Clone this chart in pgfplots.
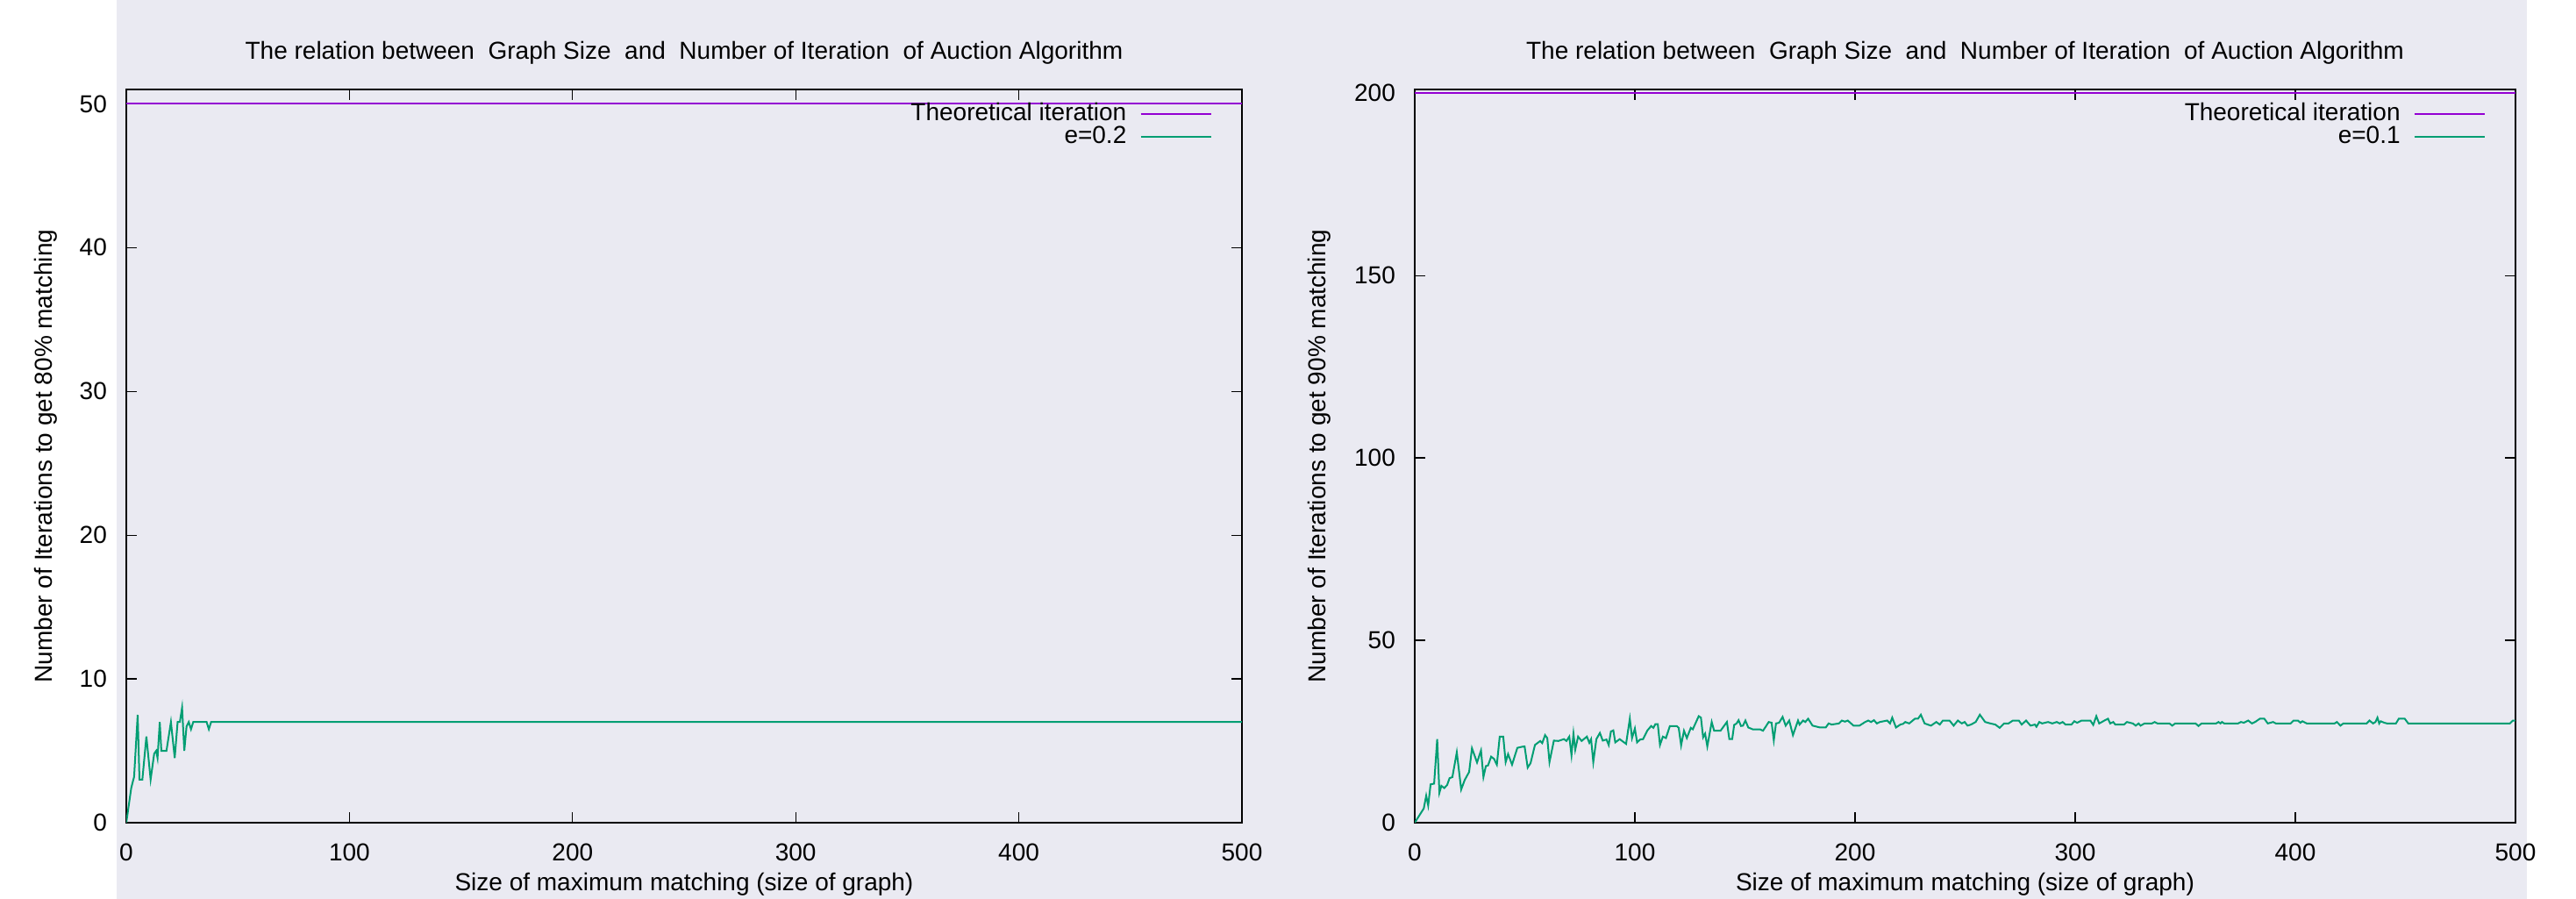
\documentclass[border=0pt]{standalone}
\usepackage{pgfplots}
\pgfplotsset{compat=1.18}
\usepackage{fontspec}
\setmainfont{Liberation Sans}

\definecolor{bgcol}{HTML}{EAEAF2}
\definecolor{gpviolet}{HTML}{9400D3}
\definecolor{gpgreen}{HTML}{009E73}

\pgfplotsset{
  gpstyle/.style={
    scale only axis,
    height=209pt,
    xmin=0, xmax=500,
    xtick={0,100,...,500},
    font=\fontsize{7}{8.4}\selectfont,
    /pgf/number format/assume math mode=true,
    axis line style={black, line width=0.7pt},
    tick style={black, line width=0.3pt},
    major tick length=3pt,
    xtick pos=both, ytick pos=both,
    xticklabel pos=lower, yticklabel pos=left,
    yticklabel style={xshift=-2pt},
    xticklabel style={yshift=-2.5pt},
    xlabel={Size of maximum matching (size of graph)},
    xlabel style={at={(axis description cs:0.5,-0.0837)}, anchor=center},
    title={The relation between\ \ Graph Size\ \ and\ \ Number of Iteration\ \ of Auction Algorithm},
    every axis title shift=0pt,
    title style={at={(axis description cs:0.5,1.05)}, anchor=center},
    legend plot pos=right,
    legend cell align=right,
    legend image code/.code={\draw[##1] (0pt,0pt) -- (20pt,0pt);},
    legend style={draw=none, fill=none, anchor=north east, font=\fontsize{7}{8.4}\selectfont,
      nodes={inner sep=0.8pt}, column sep=3pt, row sep=-1.6pt,
      at={(axis description cs:0.983,0.996)}},
  }
}

\begin{document}
\begin{tikzpicture}
\fill[white] (0,0) rectangle (734.25pt,256.25pt);
\fill[bgcol] (33.25pt,0) rectangle (720.25pt,256.25pt);

\begin{axis}[gpstyle,
  at={(36pt,21.75pt)}, anchor=south west,
  width=318pt,
  ymin=0, ymax=51,
  ytick={0,10,...,50},
  ylabel={Number of Iterations to get 80\% matching},
  ylabel style={at={(axis description cs:-0.0723,0.5)}, anchor=center},
]
\addplot[gpviolet, line width=0.5pt] coordinates {(0,50) (500,50)};
\addlegendentry{Theoretical iteration}
\addplot[gpgreen, line width=0.5pt] coordinates {
(0,0)(2.2,2.4)(3.5,3.2)(5.1,7.5)(5.9,3)(7.2,3)(9,6)(10.9,3)(12.5,4.8)(13.4,5)
(14,4.5)(15,7)(15.7,5)(18,5)(20,7)(21.7,4.5)(23,7)(24,7)(25,8)(26,5)(27,6.7)
(28,7)(29,6.5)(30,7)(36,7)(37,6.5)(38,7)(500,7)
};
\addlegendentry{e=0.2}
\end{axis}

\begin{axis}[gpstyle,
  at={(403.25pt,21.75pt)}, anchor=south west,
  width=313.75pt,
  ymin=0, ymax=201,
  ytick={0,50,...,200},
  ylabel={Number of Iterations to get 90\% matching},
  ylabel style={at={(axis description cs:-0.0869,0.5)}, anchor=center},
]
\addplot[gpviolet, line width=0.5pt] coordinates {(0,200) (500,200)};
\addlegendentry{Theoretical iteration}
\addplot[gpgreen, line width=0.5pt] coordinates {
(0,0)(4.1,3.9)(5.2,7.4)(6.1,4.7)(7.2,10.5)(8.8,10.7)(10.2,22.9)(11.2,8.2)(12.1,10.1)
(13.4,9.5)(14.7,10.3)(15.8,12.2)(17.1,12.5)(19.1,19.3)(21.1,9.1)(22.7,11.7)(24.7,13.9)
(26,20.4)(28.3,16.5)(30.1,19.8)(31.2,12.5)(32.3,15.5)(33.3,15.7)(34.7,18.1)(36,17.5)
(37.3,15.9)(38.6,23.6)(40.2,23.6)(41.3,16.6)(42.4,18.8)(44.2,15.9)(46.6,20.5)(48.6,20.8)
(49.9,20.9)(51.3,15.1)(52.6,16.3)(54.6,21.3)(57,22.4)(57.9,21.8)(59.2,24)(60.2,23.2)
(61.2,16.6)(63.2,22.5)(65.2,22.4)(67.8,22.9)(68.9,22.4)(70.2,23.6)(71.2,18.5)(72.1,24.4)
(72.9,20)(74.2,23.6)(75.8,22.4)(78.2,23.6)(79.3,21.9)(80.1,22.9)(81.1,16.6)(82.5,22.9)
(84.1,24.6)(85.4,22.5)(87.1,22.8)(88.1,21.3)(89.1,25)(90.2,25.3)(91.1,22)(93.1,22.9)
(96,21.6)(97.7,28.5)(98.7,23.2)(100,25.8)(101,22)(102.4,22.8)(103.7,22.9)(105.7,25.3)
(107.4,26.5)(108.4,26)(109.3,27)(110.4,27)(111.4,21.3)(112.7,23.6)(114.1,23.2)(115.9,26.5)
(119,26.5)(119.9,26)(121,21.2)(122.3,25.2)(123.6,23.2)(125.4,26)(126.3,25.6)(129,29.2)
(130,28.8)(131,23.4)(131.9,24.4)(132.9,20.9)(134.9,27.6)(136,25.2)(138.9,25.2)(141.8,27.6)
(142.9,22.9)(144.2,22.9)(145.1,26.8)(146.2,27.2)(147.1,28.1)(148.2,26.5)(149.1,26.6)
(150.2,28)(151.5,26.1)(153.5,25.6)(156.8,25.6)(158.2,25.2)(160.8,27.6)(162.1,27.4)
(163.1,22.6)(164.1,27.2)(165.5,27.4)(167.1,29)(168.5,26.6)(170.1,28)(171.8,24)(174.1,28)
(174.8,26.9)(176.4,28)(177.4,27.6)(178.7,28.5)(180.7,26.6)(184.1,26.1)(186.7,26.1)
(188,27.2)(189.4,26.9)(192.7,27.2)(194,28)(195.4,27.7)(196.7,28)(199.3,26.6)(202,26.6)
(204.6,27.6)(206,28)(207.3,27.6)(208.6,28.1)(209.9,27.2)(211.3,27.6)(214.6,28)(215.9,27.2)
(216.9,28.8)(218.6,26.1)(220.6,26.9)(221.9,27.1)(222.8,27.6)(224.6,27.2)(227.2,28.5)
(228.6,28.5)(229.9,29.6)(231.6,27.2)(234.5,26.6)(236.9,27.6)(238.5,26.9)(239.9,28)
(242.9,28)(244.8,26.6)(246.7,28)(248.5,27.2)(249.8,27.6)(251.1,26.6)(252.7,26.9)
(254.8,27.6)(256.7,29.6)(259.1,27.6)(261.5,27.2)(263.7,26.9)(265.7,26)(267.7,27.2)
(269.7,27.2)(271.7,28)(274.4,28)(275.7,26.9)(277.7,28)(279.7,26.6)(281.7,26.9)(282.4,26.3)
(283.7,27.6)(285,27.2)(287.7,27.6)(289.6,27.2)(291.6,27.6)(293,27.2)(294.3,27.6)
(295.6,26.9)(298.3,26.9)(299.6,27.8)(300.9,27.4)(302.9,28)(306.9,28)(308.2,26.8)
(309.6,29.2)(310.9,27.2)(313.3,28)(314.9,28.5)(315.9,27.2)(317.3,27.6)(318.2,26.9)
(322.2,26.9)(323.5,27.6)(326.2,27.2)(327.5,26.6)(328.8,27.2)(329.7,26.6)(331.5,27.2)
(334.8,27.2)(336.1,27.6)(337.4,27.2)(342.8,27.2)(344.1,26.6)(345.4,27.2)(354.7,27.2)
(356,26.5)(357.4,27.2)(364,27.2)(365.1,27.6)(366,27.2)(366.7,27.6)(367.7,27.2)(374,27.2)
(375.3,27.6)(376.6,27.4)(378.6,28)(380.3,27.2)(381.7,27.6)(383.9,28.5)(385.9,28.5)
(387.5,27.2)(389.9,27.6)(391.2,27.2)(397.9,27.2)(399.2,28)(401.2,28)(402.3,27.4)
(403.2,27.8)(405.2,27.2)(417.8,27.2)(418.9,27.6)(420.5,26.6)(421.8,27.2)(432.4,27.2)
(433.7,28)(435.3,27.2)(436.4,27.6)(437.3,28.8)(438.1,27.2)(438.8,27.8)(440.4,27.4)
(441.7,27.2)(445.7,27.2)(447,28.5)(449.7,28.5)(451.3,27.2)(497.5,27.2)(498.8,28)(500,28)
};
\addlegendentry{e=0.1}
\end{axis}

\pgfresetboundingbox
\useasboundingbox (0,0) rectangle (734.25pt,256.25pt);
\end{tikzpicture}
\end{document}
